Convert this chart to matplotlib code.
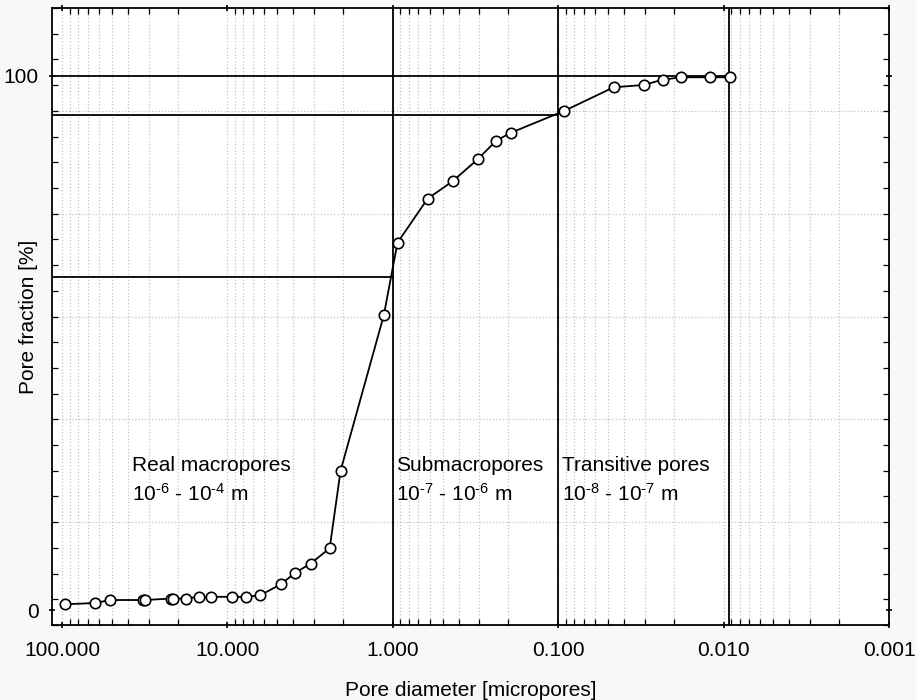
import numpy as np
import matplotlib.pyplot as plt

# fonte parecida com Arial
plt.rcParams['font.family'] = ['Liberation Sans', 'DejaVu Sans']
plt.rcParams['mathtext.fontset'] = 'custom'
plt.rcParams['mathtext.rm'] = 'Liberation Sans'
plt.rcParams['mathtext.default'] = 'regular'

# dados (diametro em micropores, fracao em %)
diametro = [96.3, 63.4, 51.0, 32.6, 31.5, 21.9, 21.2, 17.8, 14.9, 12.5,
            9.42, 7.70, 6.34, 4.75, 3.91, 3.14, 2.41, 2.07, 1.134, 0.937,
            0.616, 0.435, 0.307, 0.237, 0.193, 0.0917, 0.0462, 0.0304,
            0.0234, 0.0180, 0.0121, 0.00916]
fracao = [1.07, 1.31, 1.87, 1.87, 1.87, 2.15, 2.15, 2.15, 2.47, 2.47,
          2.47, 2.47, 2.75, 4.83, 6.92, 8.70, 11.55, 26.07, 55.16, 68.74,
          76.98, 80.24, 84.35, 87.84, 89.33, 93.43, 97.83, 98.26,
          99.25, 99.70, 99.70, 99.70]

# linhas de referencia (limites das classes de poros)
limites_x = [1.0, 0.1, 0.00926]
niveis_y = [62.3, 92.7, 100.0]

xticks = [100, 10, 1, 0.1, 0.01, 0.001]
xlabels = ['100.000', '10.000', '1.000', '0.100', '0.010', '0.001']

classes = ['Real macropores\n$10^{\\text{-}6}$ - $10^{\\text{-}4}$ m',
           'Submacropores\n$10^{\\text{-}7}$ - $10^{\\text{-}6}$ m',
           'Transitive pores\n$10^{\\text{-}8}$ - $10^{\\text{-}7}$ m']
classes_x = [37.7, 0.96, 0.0946]

ymin, ymax = -2.81, 112.67

fig = plt.figure(figsize=(9.16, 7.0), dpi=100, facecolor='#f8f8f8')
ax = fig.add_axes([0.0568, 0.1071, 0.9137, 0.8815])
ax.set_facecolor('white')

ax.set_xscale('log')
ax.set_xlim(115, 0.001)
ax.set_ylim(ymin, ymax)

# grade: vertical em todas as divisoes log, horizontal em 6 partes
ax.grid(axis='x', which='both', ls=':', color='#c4c4c4', lw=0.9)
for g in np.linspace(ymin, ymax, 7)[1:-1]:
    ax.axhline(g, ls=':', color='#c4c4c4', lw=0.9, zorder=0.5)

# linhas verticais e horizontais
for v in limites_x:
    ax.axvline(v, color='black', lw=1.3, zorder=2)
for n, v in zip(niveis_y, limites_x):
    ax.plot([115, v], [n, n], color='black', lw=1.3, zorder=2)

ax.plot(diametro, fracao, '-o', color='black', lw=1.3, ms=7.5,
        mfc='white', mec='black', mew=1.2, zorder=3, clip_on=False)

for t, x in zip(classes, classes_x):
    ax.text(x, 24.2, t, fontsize=15, ha='left', va='center', linespacing=1.45)

ax.set_xticks(xticks)
ax.set_xticklabels(xlabels)
ax.set_yticks([0, 100])
ax.set_yticklabels(['0', '100'])
ax.set_yticks(np.linspace(ymin, ymax, 25), minor=True)

ax.tick_params(axis='both', which='major', labelsize=15, direction='inout',
               length=5, width=1.2, top=True, right=True)
ax.tick_params(axis='both', which='minor', direction='in', length=4,
               width=0.9, top=True, right=True)
ax.tick_params(axis='x', which='major', pad=9)
ax.tick_params(axis='y', which='major', pad=7)

for s in ax.spines.values():
    s.set_linewidth(1.3)

ax.set_xlabel('Pore diameter [micropores]', fontsize=15)
ax.xaxis.set_label_coords(0.5, -0.09)
ax.set_ylabel('Pore fraction [%]', fontsize=15)
ax.yaxis.set_label_coords(-0.017, 0.5)

plt.savefig('out.png', dpi=100, facecolor=fig.get_facecolor())
